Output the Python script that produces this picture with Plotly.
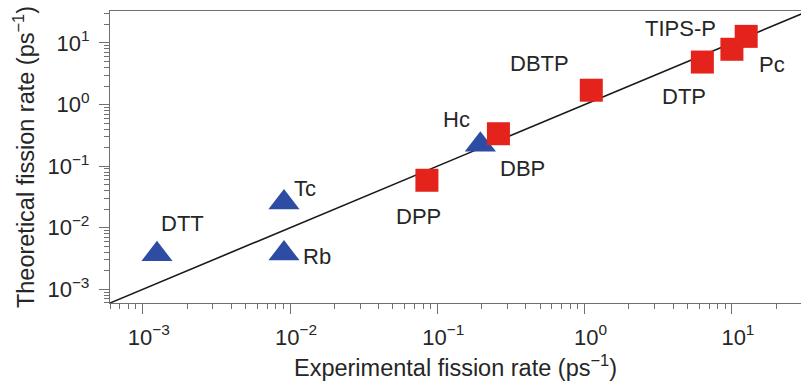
import numpy as np
import plotly.graph_objects as go

# ---- data ----
sq_names = ["DPP", "DBP", "DBTP", "DTP", "TIPS-P", "Pc"]
sq_exp = [0.085, 0.26, 1.11, 6.3, 10.0, 12.5]
sq_theo = [0.059, 0.336, 1.71, 4.9, 7.9, 12.8]

tri_names = ["DTT", "Tc", "Rb", "Hc"]
tri_exp = [0.00125, 0.0091, 0.0091, 0.196]
tri_theo = [0.0037, 0.0256, 0.0038, 0.223]

# 1:1 reference line
line_vals = [10 ** -3.4, 10 ** 1.7]

# tick labels
tick_vals = [1e-3, 1e-2, 1e-1, 1e0, 1e1]
tick_text = ["10<sup>−3</sup>", "10<sup>−2</sup>", "10<sup>−1</sup>", "10<sup>0</sup>", "10<sup>1</sup>"]
minor_vals = [m * 10.0 ** e for e in range(-4, 2) for m in range(2, 10)]

# label offsets (pixels) relative to the marker
label_dx = {"DPP": -8, "DBP": 24, "DBTP": -52, "DTP": -18, "TIPS-P": -51, "Pc": 26,
            "DTT": 26, "Tc": 21, "Rb": 33, "Hc": -24}
label_dy = {"DPP": -36, "DBP": -35, "DBTP": 27, "DTP": -34, "TIPS-P": 21, "Pc": -28,
            "DTT": 31, "Tc": 14, "Rb": -3, "Hc": 25}

FONT = "Liberation Sans, Arial, Helvetica, sans-serif"
TXT = "#262626"
AX = "#707070"

fig = go.Figure()
fig.add_trace(go.Scatter(x=line_vals, y=line_vals, mode="lines",
                         line=dict(color="#1a1a1a", width=1.6), showlegend=False,
                         hoverinfo="skip"))
fig.add_trace(go.Scatter(x=tri_exp, y=tri_theo, mode="markers",
                         marker=dict(symbol="triangle-up", size=27, color="#2d4ca3",
                                     line=dict(width=0)),
                         showlegend=False, cliponaxis=False))
fig.add_trace(go.Scatter(x=sq_exp, y=sq_theo, mode="markers",
                         marker=dict(symbol="square", size=23, color="#e3231c",
                                     line=dict(width=0)),
                         showlegend=False, cliponaxis=False))

for names, xs, ys in [(sq_names, sq_exp, sq_theo), (tri_names, tri_exp, tri_theo)]:
    for n, xv, yv in zip(names, xs, ys):
        fig.add_annotation(x=np.log10(xv), y=np.log10(yv), text=n, showarrow=False,
                           xshift=label_dx[n], yshift=label_dy[n],
                           font=dict(family=FONT, size=22, color=TXT))

axis_common = dict(
    type="log", showgrid=False, zeroline=False,
    showline=True, linecolor=AX, linewidth=1.3,
    ticks="outside", ticklen=10, tickwidth=1.2, tickcolor=AX,
    tickmode="array", tickvals=tick_vals, ticktext=tick_text,
    tickfont=dict(family=FONT, size=22, color=TXT),
    minor=dict(ticks="outside", ticklen=5, tickwidth=1, tickcolor=AX,
               tickmode="array", tickvals=minor_vals, showgrid=False),
)

fig.update_xaxes(**axis_common, range=[-3.222, 1.469], mirror=True, ticklabelshift=6,
                 ticklabelstandoff=4,
                 title=dict(text="Experimental fission rate (ps<sup>−1</sup>)",
                            font=dict(family=FONT, size=23.5, color=TXT), standoff=11))
fig.update_yaxes(**axis_common, range=[-3.222, 1.519], ticklabelstandoff=5,
                 title=dict(text="Theoretical fission rate (ps<sup>−1</sup>)",
                            font=dict(family=FONT, size=23.5, color=TXT), standoff=6))

fig.update_layout(width=801, height=381, margin=dict(l=110, r=0, t=11, b=78),
                  paper_bgcolor="white", plot_bgcolor="white")

fig.write_html("out.html")
